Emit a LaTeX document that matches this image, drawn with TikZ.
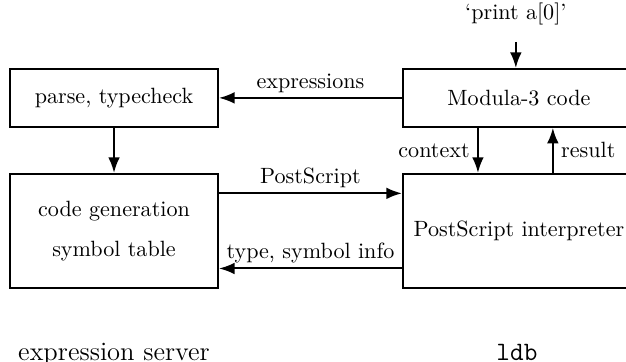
\documentclass[tikz,border=0pt]{standalone}
\usepackage{tikz}
\usetikzlibrary{arrows.meta, positioning}

\begin{document}
\begin{tikzpicture}[
    node distance=20.4pt,
    line width=0.9pt,
    box/.style={draw, rectangle, minimum height=26.2pt},
    lbl/.style={inner sep=2pt},
    >={Latex}
]

\useasboundingbox (-51.6pt,44.3pt) rectangle (231.7pt,-119.5pt);
\clip (-51.6pt,44.3pt) rectangle (231.7pt,-119.5pt);

\node (parse) [box, minimum width=94.1pt] {parse, typecheck};
\node (codegen) [box, minimum width=94.1pt, minimum height=51.6pt, align=center, below=of parse] {code generation\\[6pt]symbol table};
\node (modula) [box, minimum width=105pt, right=82.8pt of parse] {Modula-3 code};
\node (interp) [box, minimum width=105pt, minimum height=51.6pt, below=of modula] {PostScript interpreter};

% input and captions
\node (cmd) [anchor=base] at ([xshift=-1.4pt, yshift=21.9pt]modula.north) {`print a[0]'};
\coordinate (cmdin) at ([xshift=-1.4pt, yshift=11.8pt]modula.north);
\node (server) [anchor=base, font=\large] at ([yshift=-32.6pt]codegen.south) {expression server};
\node (ldb) [anchor=base, font=\large\ttfamily] at ([xshift=-0.9pt, yshift=-32.6pt]interp.south) {ldb};

% arrows
\draw[->] (cmdin) -- (cmdin |- modula.north);
\draw[->] (modula) -- (parse) node[lbl, midway, above] {expressions};
\draw[->] (parse) -- (codegen);
\draw[->] ([yshift=17pt]codegen.east) -- ([yshift=17pt]interp.west) node[lbl, midway, above] {PostScript};
\draw[->] ([yshift=-17pt]interp.west) -- ([yshift=-17pt]codegen.east) node[lbl, midway, above] {type, symbol info};
\draw[->] ([xshift=34.4pt]modula.south west) -- ([xshift=34.4pt]interp.north west) node[midway, left] {context};
\draw[->] ([xshift=68.3pt]interp.north west) -- ([xshift=68.3pt]modula.south west) node[midway, right] {result};

\end{tikzpicture}
\end{document}
